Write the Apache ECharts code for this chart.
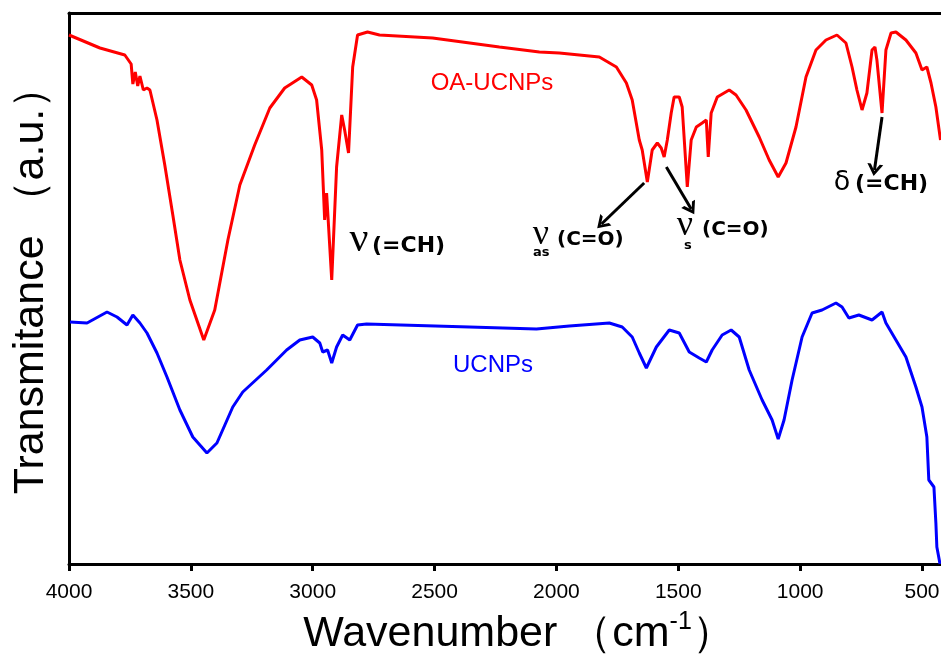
<!DOCTYPE html>
<html>
<head>
<meta charset="utf-8">
<script src="https://cdn.jsdelivr.net/npm/echarts@6/dist/echarts.min.js"></script>
<style>html,body{margin:0;padding:0;background:#fff;}#c{width:941px;height:660px;}</style>
</head>
<body>
<div id="c"></div>
<script>
// Wavenumber (cm-1) and transmittance (a.u.)
var wnRed = [4000,3873,3771,3745,3738,3728,3718,3709,3695,3680,3668,3639,3607,3574,3545,3504,3447,3402,3348,3299,3238,3176,3115,3045,3004,2984,2963,2951,2943,2922,2902,2881,2869,2853,2836,2816,2775,2726,2508,2234,2070,1988,1824,1754,1713,1689,1660,1648,1627,1607,1586,1570,1558,1545,1529,1517,1496,1484,1463,1447,1426,1402,1385,1377,1365,1340,1291,1263,1222,1168,1127,1090,1058,1017,976,935,894,849,812,787,767,746,726,705,693,685,664,648,627,607,566,525,500,480,463,443,424];
var tRed = [529,516,509,500,480,492,478,488,474,476,474,444,399,349,304,264,224,254,324,379,419,456,476,487,479,464,414,344,371,284,397,449,434,411,497,529,532,529,526,517,512,511,507,497,481,464,424,414,382,414,421,416,407,424,451,467,467,457,377,424,437,441,444,407,451,467,474,469,454,427,404,387,401,437,487,514,524,529,521,497,474,454,471,514,517,504,451,514,531,532,524,511,494,497,481,457,424];
var wnBlue = [3996,3926,3844,3803,3762,3738,3709,3680,3639,3598,3545,3492,3434,3393,3328,3287,3189,3107,3053,3000,2971,2959,2939,2922,2902,2877,2848,2816,2779,2357,2082,1947,1783,1730,1689,1660,1631,1590,1537,1496,1455,1414,1385,1361,1320,1283,1250,1209,1156,1115,1090,1066,1033,992,951,910,853,828,800,759,705,664,648,607,566,525,500,480,472,451,443,439,426];
var tBlue = [242,241,252,247,239,249,241,231,211,187,154,127,111,121,157,172,194,214,224,227,221,212,214,201,217,229,224,239,240,237,235,238,241,237,227,211,196,217,234,231,212,206,202,214,229,234,227,194,164,144,125,144,184,227,251,254,261,257,246,249,244,252,241,224,207,177,157,127,84,77,41,17,0];
var tickValues = [500,1000,1500,2000,2500,3000,3500,4000];
var nameRed = 'OA-UCNPs';
var nameBlue = 'UCNPs';

function zip(a,b){var r=[];for(var i=0;i<a.length;i++)r.push([a[i],b[i]]);return r;}

var chevron = 'path://M0,10 L5,0 L10,10 L7.8,10 L5,4.2 L2.2,10 Z';
var F = 'Liberation Sans, Arial, sans-serif';
var BF = 'bold 22px DejaVu Sans, sans-serif';
var BF2 = 'bold 20px DejaVu Sans, sans-serif';
var SUB = 'bold 13px DejaVu Sans, sans-serif';
function txt(x,y,t,font,align){
  return {type:'text',x:x,y:y,style:{text:t,fill:'#000',font:font,textAlign:align||'left',textVerticalAlign:'middle'}};
}

var chart = echarts.init(document.getElementById('c'), null, {renderer:'canvas'});
chart.setOption({
  animation:false,
  backgroundColor:'#fff',
  grid:{left:69,right:0,top:13,bottom:96,containLabel:false,outerBoundsMode:'none'},
  xAxis:[{
    type:'value',min:422,max:4000,inverse:true,
    axisLine:{show:true,lineStyle:{color:'#000',width:3}},
    axisTick:{show:true,inside:false,length:7,lineStyle:{color:'#000',width:3},customValues:tickValues},
    axisLabel:{show:true,color:'#000',fontSize:21,fontFamily:F,margin:18,customValues:tickValues,
      formatter:function(v){return String(v);}},
    splitLine:{show:false}
  },{
    type:'value',min:422,max:4000,inverse:true,position:'top',
    axisLine:{show:true,onZero:false,lineStyle:{color:'#000',width:3}},
    axisTick:{show:false},axisLabel:{show:false},splitLine:{show:false}
  }],
  yAxis:{
    type:'value',min:0,max:551,
    axisLine:{show:true,lineStyle:{color:'#000',width:3}},
    axisTick:{show:false},axisLabel:{show:false},splitLine:{show:false}
  },
  series:[{
    name:nameRed,type:'line',data:zip(wnRed,tRed),showSymbol:false,
    lineStyle:{color:'#ff0000',width:3},
    markLine:{
      silent:true,symbol:['none',chevron],symbolSize:[16,12],
      label:{show:false},
      lineStyle:{color:'#000',width:3,type:'solid'},
      data:[
        [{coord:[1640,381]},{coord:[1815,340]}],
        [{coord:[1549,397]},{coord:[1447,355]}],
        [{coord:[664,447]},{coord:[695,394]}]
      ]
    }
  },{
    name:nameBlue,type:'line',data:zip(wnBlue,tBlue),showSymbol:false,
    lineStyle:{color:'#0000ff',width:3}
  }],
  graphic:[
    {type:'text',x:492,y:83,style:{text:nameRed,fill:'#ff0000',font:'24px '+F,textAlign:'center',textVerticalAlign:'middle'}},
    {type:'text',x:493,y:365,style:{text:nameBlue,fill:'#0000ff',font:'24px '+F,textAlign:'center',textVerticalAlign:'middle'}},
    {type:'text',x:31,y:280,rotation:Math.PI/2,style:{text:'Transmitance （a.u.）',fill:'#000',font:'43px '+F,textAlign:'center',textVerticalAlign:'middle'}},
    {type:'text',x:519,y:634,style:{
      text:'{t|Wavenumber （cm}{s|-1}{t|）}',textAlign:'center',textVerticalAlign:'middle',
      rich:{t:{fill:'#000',fontSize:43,fontFamily:F},s:{fill:'#000',fontSize:25,fontFamily:F,padding:[0,0,24,0]}}
    }},
    // ν(=CH)
    txt(359,240,'ν','42px Liberation Serif, serif','center'),
    txt(372,246,'(=CH)',BF),
    // νas(C=O)
    txt(541,235,'ν','36px Liberation Serif, serif','center'),
    txt(533,253,'as',SUB),
    txt(557,240,'(C=O)',BF2),
    // νs(C=O)
    txt(685,226,'ν','36px Liberation Serif, serif','center'),
    txt(684,246,'s',SUB),
    txt(702,230,'(C=O)',BF2),
    // δ(=CH)
    txt(842,183,'δ','27px DejaVu Sans, sans-serif','center'),
    txt(855,184,'(=CH)',BF)
  ]
});
</script>
</body>
</html>
